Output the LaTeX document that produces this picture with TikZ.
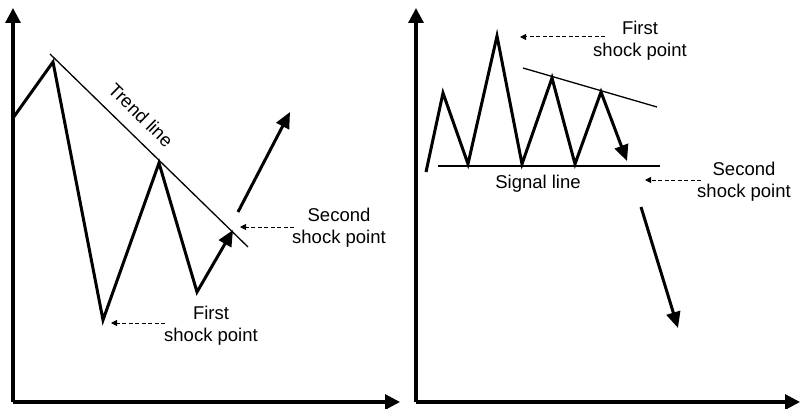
\documentclass[tikz,border=0pt]{standalone}
\usepackage{fontspec}
\setmainfont{Liberation Sans}
\usetikzlibrary{arrows.meta}

\begin{document}
\begin{tikzpicture}[
  x=1pt, y=-1pt,
  every node/.style={font=\fontsize{18.5}{22}\selectfont, align=center,
                     inner sep=0pt},
  axis/.style ={line width=3.2pt, -{Triangle[length=15pt,width=15pt]}},
  move/.style ={line width=3pt, -{Triangle[length=16pt,width=14pt]}},
  guide/.style={line width=1.3pt},
  hint/.style ={line width=1pt, dash pattern=on 4pt off 2.5pt,
                -{Triangle[length=6pt,width=6pt]}},
]
\useasboundingbox (0,0) rectangle (800,409);

% left chart: trend line breakout
\coordinate (oL) at (13,402);
\coordinate (yL) at (13,8);
\coordinate (xL) at (400,402);
\draw[axis] (oL) -- (yL);
\draw[axis] (oL) -- (xL);

\coordinate (topL)    at (53,62);
\coordinate (lowL)    at (103,320);
\coordinate (peakL)   at (159,163);
\coordinate (dipL)    at (197,292);
\coordinate (touchL)  at (233,230);
\draw[move] (13,118) -- (topL) -- (lowL) -- (peakL) -- (dipL) -- (touchL);

\coordinate (trendA) at (50,54);
\coordinate (trendB) at (248,247);
\draw[guide] (trendA) -- (trendB);
\node[rotate=-44.3] (trend) at (141,115) {Trend line};

\coordinate (upA) at (238,212);
\coordinate (upB) at (290,112);
\draw[move] (upA) -- (upB);

\node (secondL) at (339,228) {Second\\shock point};
\coordinate (shock2L) at (240,227);
\draw[hint] ([xshift=2pt]secondL.west |- shock2L) -- (shock2L);

\node (firstL) at (211,326) {First\\shock point};
\coordinate (shock1L) at (111,323);
\draw[hint] ([xshift=1pt]firstL.west |- shock1L) -- (shock1L);

% right chart: signal line breakdown
\coordinate (oR) at (416,402);
\coordinate (yR) at (416,8);
\coordinate (xR) at (800,402);
\draw[axis] (oR) -- (yR);
\draw[axis] (oR) -- (xR);

\draw[move] (426,172) -- (443,93) -- (468,164) -- (497,36) -- (522,164)
  -- (552,78) -- (575,164) -- (601,92) -- (627,161);

\coordinate (signalA) at (438,166);
\coordinate (signalB) at (660,166);
\draw[guide] (signalA) -- (signalB);
\node (signal) at (538,184) {Signal line};

\coordinate (topA) at (523,68);
\coordinate (topB) at (657,107);
\draw[guide] (topA) -- (topB);

\node (firstR) at (640,41) {First\\shock point};
\coordinate (shock1R) at (520,37);
\draw[hint] ([xshift=12pt]firstR.west |- shock1R) -- (shock1R);

\node (secondR) at (744,182) {Second\\shock point};
\coordinate (shock2R) at (645,180);
\draw[hint] ([xshift=4pt]secondR.west |- shock2R) -- (shock2R);

\coordinate (downA) at (641,207);
\coordinate (downB) at (678,328);
\draw[move] (downA) -- (downB);

\end{tikzpicture}
\end{document}
